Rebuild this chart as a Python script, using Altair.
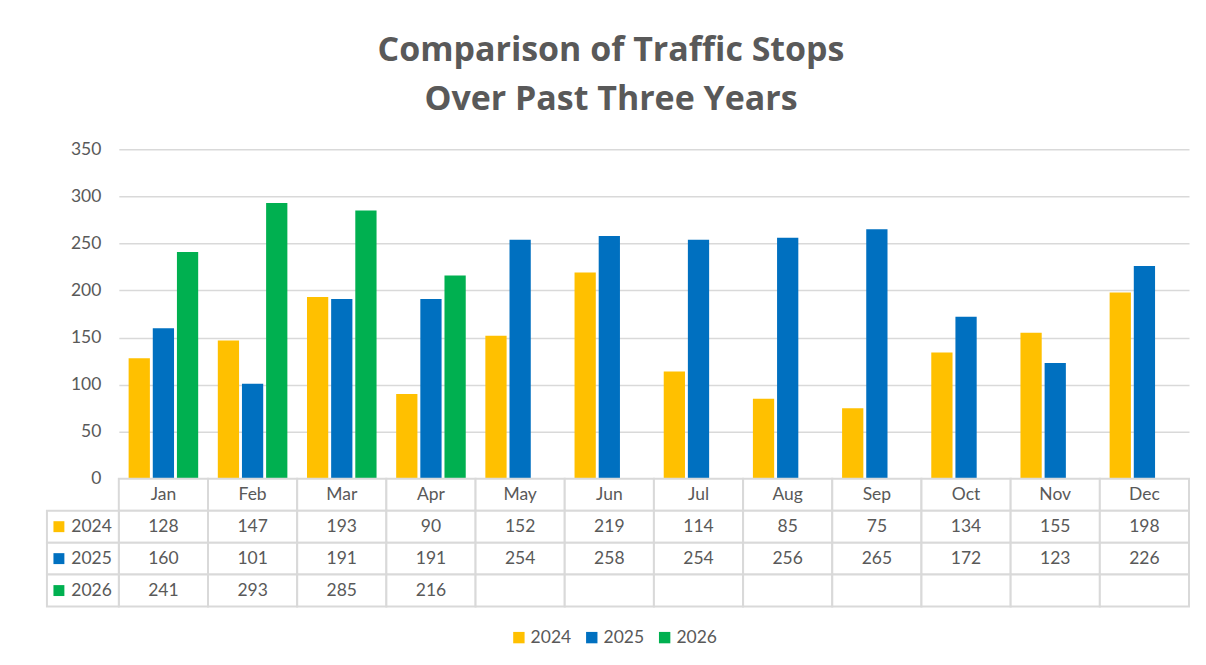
import altair as alt
import pandas as pd

months = ["Jan", "Feb", "Mar", "Apr", "May", "Jun", "Jul", "Aug", "Sep", "Oct", "Nov", "Dec"]
years = ["2024", "2025", "2026"]
v2024 = [128, 147, 193, 90, 152, 219, 114, 85, 75, 134, 155, 198]
v2025 = [160, 101, 191, 191, 254, 258, 254, 256, 265, 172, 123, 226]
v2026 = [241, 293, 285, 216, None, None, None, None, None, None, None, None]
colors = ["#FFC000", "#0070C0", "#00B050"]

GREY = "#595959"
LINE = "#d9d9d9"
FONT = "Lato"
FS = 17.5

rows = []
for y, vals in zip(years, [v2024, v2025, v2026]):
    for m, v in zip(months, vals):
        rows.append({"month": m, "year": y, "value": v})
df = pd.DataFrame(rows)

trows = [{"month": m, "row": "hdr", "text": m} for m in months]
for y, vals in zip(years, [v2024, v2025, v2026]):
    for m, v in zip(months, vals):
        trows.append({"month": m, "row": y, "text": "" if v is None else str(v)})
tdf = pd.DataFrame(trows)
ldf = pd.DataFrame({"row": years, "year": years})

color = alt.Color(
    "year:N",
    scale=alt.Scale(domain=years, range=colors),
    legend=alt.Legend(
        title=None, orient="none", direction="horizontal",
        legendX=392, legendY=480,
        symbolType="square", symbolSize=130, symbolStrokeWidth=0,
        labelFontSize=FS, labelColor=GREY, labelFont=FONT,
        labelOffset=3, columnPadding=11,
    ),
)

bars = alt.Chart(df).transform_filter("isValid(datum.value)").mark_bar().encode(
    x=alt.X("month:N", sort=months,
            scale=alt.Scale(domain=months, paddingInner=0.22, paddingOuter=0.11), axis=None),
    xOffset=alt.XOffset("year:N", scale=alt.Scale(domain=years, paddingInner=0.12)),
    y=alt.Y("value:Q", scale=alt.Scale(domain=[0, 350]),
            axis=alt.Axis(values=list(range(0, 351, 50)), title=None, domain=False, ticks=False,
                          labelPadding=18, labelFontSize=FS, labelColor=GREY, labelFont=FONT,
                          gridColor=LINE, gridWidth=1.5)),
    color=color,
).properties(width=1072, height=330)

xcell = alt.X("month:N", sort=months, scale=alt.Scale(domain=months, paddingInner=0, paddingOuter=0), axis=None)
ycell = alt.Y("row:N", scale=alt.Scale(domain=["hdr"] + years, paddingInner=0, paddingOuter=0), axis=None)

cells = alt.Chart(tdf).mark_rect(fill="white", stroke=LINE, strokeWidth=2).encode(x=xcell, y=ycell)
ctext = alt.Chart(tdf).mark_text(fontSize=FS, color=GREY, font=FONT).encode(x=xcell, y=ycell, text="text:N")
lrect = alt.Chart(ldf).mark_rect(fill="white", stroke=LINE, strokeWidth=2).encode(
    x=alt.value(-72), x2=alt.value(0), y=ycell)
lsym = alt.Chart(ldf).mark_point(shape="square", filled=True, size=120, opacity=1).encode(
    x=alt.value(-60), y=ycell, color=color)
ltext = alt.Chart(ldf).mark_text(fontSize=FS, color=GREY, font=FONT, align="right").encode(
    x=alt.value(-7), y=ycell, text="year:N")

table = alt.layer(cells, ctext, lrect, lsym, ltext).properties(width=1072, height=128)

chart = alt.vconcat(bars, table, spacing=0, bounds="flush").properties(
    title=alt.TitleParams(["Comparison of Traffic Stops", "Over Past Three Years"],
                          fontSize=34, font="Open Sans", fontWeight="bold", color=GREY,
                          anchor="middle", lineHeight=49, offset=23, dx=-7),
    padding={"left": 38, "top": 26, "right": 8, "bottom": 10},
).configure_view(strokeWidth=0)

chart.save("out.html", embed_options={"renderer": "svg", "actions": False})
